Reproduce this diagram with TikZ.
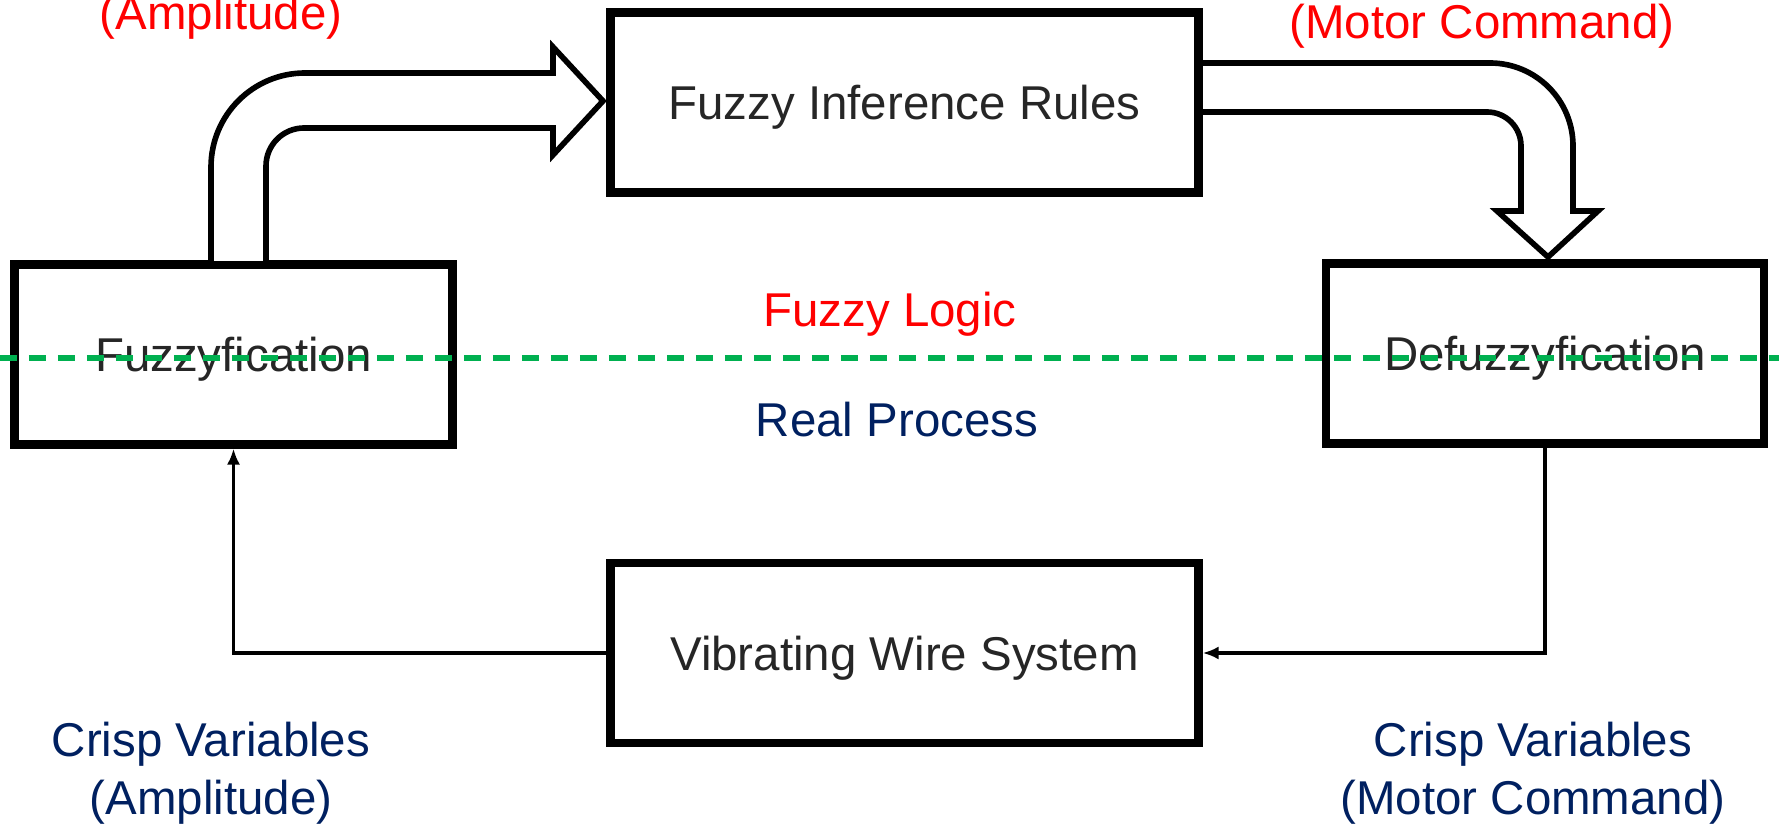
\documentclass[tikz,border=0pt]{standalone}
\usepackage{fontspec}
\setmainfont{Liberation Sans}
\usetikzlibrary{arrows.meta}

\definecolor{boxtext}{RGB}{38,38,38}
\definecolor{navyblue}{RGB}{0,32,96}
\definecolor{linegreen}{RGB}{0,176,80}

\begin{document}
\begin{tikzpicture}[
  every node/.style={font=\fontsize{13.5}{16.5}\selectfont},
  block/.style={draw, line width=2.3pt, fill=white, inner sep=0pt,
    minimum height=1.80cm, text=boxtext, text depth=0pt},
  wideblock/.style={block, minimum width=5.88cm},
  sideblock/.style={block, minimum width=4.38cm},
  bigarrow/.style={draw, line width=1.6pt, fill=white, line join=miter},
  conn/.style={line width=0.9pt, -{Latex[length=1.6mm, width=1.3mm]}},
]
  \useasboundingbox (0,0) rectangle (17.79,8.23);

  \node[wideblock] (rules)  at (9.045, 7.205) {Fuzzy Inference Rules};
  \node[sideblock] (fuzz)   at (2.335, 4.685) {Fuzzyfication};
  \node[sideblock] (defuzz) at (15.45, 4.695) {Defuzzyfication};
  \node[wideblock] (wire)   at (9.045, 1.70)  {Vibrating Wire System};

  % fuzzy side
  \node[text=red, anchor=base] (ampTop)   at (2.21, 7.93)  {(Amplitude)};
  \node[text=red, anchor=base] (motorTop) at (14.82, 7.84) {(Motor Command)};
  \node[text=red, anchor=base] (logic)    at (8.90, 4.96)  {Fuzzy Logic};

  % real side
  \node[text=navyblue, anchor=base] (real) at (8.97, 3.86) {Real Process};
  \node[text=navyblue, anchor=base, align=center] (crispL) at (2.11, 0.09)
    {Crisp Variables\\(Amplitude)};
  \node[text=navyblue, anchor=base, align=center] (crispR) at (15.33, 0.09)
    {Crisp Variables\\(Motor Command)};

  \draw[bigarrow] (2.11,5.62) -- (2.11,6.56)
    arc[start angle=180, end angle=90, radius=0.94] -- (5.53,7.50)
    -- (5.53,7.76) -- (6.03,7.22) -- (5.53,6.68) -- (5.53,6.95) -- (3.04,6.95)
    arc[start angle=90, end angle=180, radius=0.38] -- (2.66,5.62);
  \draw[bigarrow] (12.00,7.60) -- (14.90,7.60)
    arc[start angle=90, end angle=0, radius=0.83] -- (15.73,6.12)
    -- (15.98,6.12) -- (15.48,5.66) -- (14.97,6.12) -- (15.21,6.12) -- (15.21,6.77)
    arc[start angle=0, end angle=90, radius=0.34] -- (12.00,7.11) -- cycle;

  \draw[conn] (wire.west) -| (fuzz.south);
  \draw[conn] (defuzz.south) |- (wire.east);

  \draw[linegreen, line width=1.5pt, dash pattern=on 0.17cm off 0.12cm]
    (0,4.65) -- (17.79,4.65);
\end{tikzpicture}
\end{document}
